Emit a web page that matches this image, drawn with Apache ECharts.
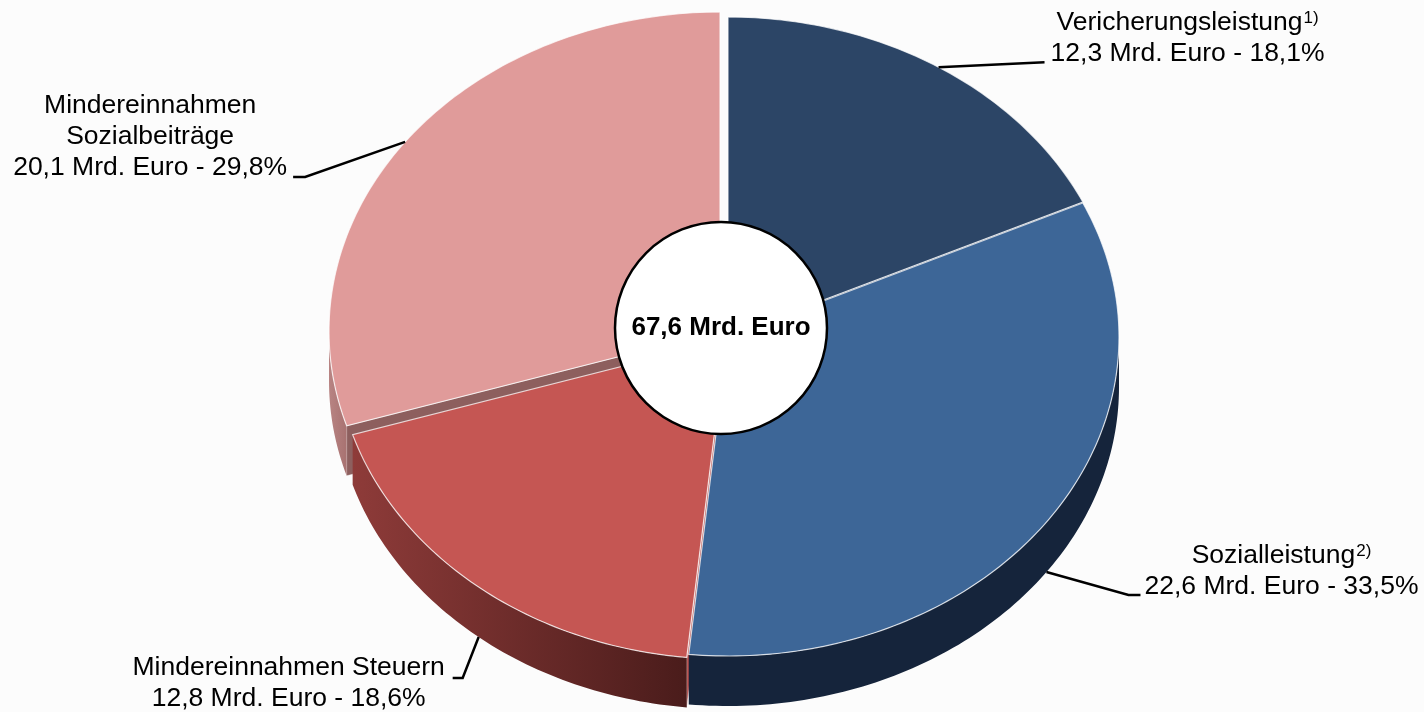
<!DOCTYPE html>
<html>
<head>
<meta charset="utf-8">
<script src="https://cdn.jsdelivr.net/npm/echarts@6/dist/echarts.min.js"></script>
<style>
  html, body { margin: 0; padding: 0; background: #fcfcfc; }
  #chart { width: 1424px; height: 712px; }
</style>
</head>
<body>
<div id="chart"></div>
<script>
const CATEGORIES = ["Vericherungsleistung", "Sozialleistung", "Mindereinnahmen Steuern", "Mindereinnahmen Sozialbeiträge"];
const NAME_LINES = [["Vericherungsleistung"], ["Sozialleistung"], ["Mindereinnahmen Steuern"], ["Mindereinnahmen", "Sozialbeiträge"]];
const FOOTNOTES = ["1)", "2)", "", ""];
const VALUES = [12.3, 22.6, 12.8, 20.1]; // Mrd. Euro
const SHARES = [18.1, 33.5, 18.6, 29.8]; // Prozent
const TOTAL = 67.6;

const FONT = "'Liberation Sans', Arial, sans-serif";
const L = { cx: 725, cy: 337, rx: 391, ry: 319, depth: 50, hole: 106 };
// kleine Verschiebung der Segmente (Explosion), px
const SHIFT = [[3, -1], [3, 0], [1, 3], [-5, -6]];
const TOP = ["#2c4566", "#3d6697", "#c55653", "#e09b9a"];
const FACE = ["#1f3350", "#1b2d48", "#b34b48", "#8d5f5e"];
const WALL = [
  "#1b2b42",
  "#15243b",
  new echarts.graphic.LinearGradient(0, 0, 1, 0, [{ offset: 0, color: "#8e3b39" }, { offset: 1, color: "#4a1c1b" }]),
  new echarts.graphic.LinearGradient(0, 0, 1, 0, [{ offset: 0, color: "#b88483" }, { offset: 1, color: "#a87271" }]),
];
// Beschriftung: Knick relativ zum Ankerpunkt, waagrechtes Endstück, Textmitte relativ zum Linienende
const LABEL_LAYOUT = [
  { elbow: [106, -5], tail: 0, text: [143, -24.5] },
  { elbow: [82, 23], tail: 12, text: [141, -24] },
  { elbow: [-16, 41], tail: -10, text: [-164, 5.5] },
  { elbow: [-100, 35], tail: -12, text: [-143, -40] },
];

const fmt = (v) => v.toFixed(1).replace(".", ",");
const rad = (d) => d * Math.PI / 180;

function angles(i) {
  const sum = SHARES.reduce((a, b) => a + b, 0);
  let start = 0;
  for (let k = 0; k < i; k++) start += SHARES[k];
  return [start / sum * 360, (start + SHARES[i]) / sum * 360];
}
function pt(i, deg, down) {
  const s = SHIFT[i];
  return [L.cx + s[0] + L.rx * Math.sin(rad(deg)), L.cy + s[1] - L.ry * Math.cos(rad(deg)) + (down ? L.depth : 0)];
}
function hub(i, down) {
  return [L.cx + SHIFT[i][0], L.cy + SHIFT[i][1] + (down ? L.depth : 0)];
}
function arc(i, a, b, down) {
  const pts = [];
  const n = Math.max(2, Math.ceil(Math.abs(b - a)));
  for (let k = 0; k <= n; k++) pts.push(pt(i, a + (b - a) * k / n, down));
  return pts;
}

function renderSides(params) {
  const i = params.dataIndex;
  const [a, b] = angles(i);
  const children = [];
  const face = (deg) => ({
    type: "polygon", z2: 0,
    shape: { points: [hub(i, false), pt(i, deg, false), pt(i, deg, true), hub(i, true)] },
    style: { fill: FACE[i], stroke: "rgba(255,255,255,0.5)", lineWidth: 0.8 },
  });
  if (Math.sin(rad(a)) < -0.01) children.push(face(a));
  if (Math.sin(rad(b)) > 0.01) children.push(face(b));
  const fa = Math.max(a, 90), fb = Math.min(b, 270);
  if (fb > fa) {
    children.push({
      type: "polygon", z2: 1,
      shape: { points: arc(i, fa, fb, false).concat(arc(i, fb, fa, true)) },
      style: { fill: WALL[i] },
    });
  }
  return { type: "group", children };
}

function renderTops(params) {
  const i = params.dataIndex;
  const [a, b] = angles(i);
  const mid = (a + b) / 2;
  const front = mid > 90 && mid < 270;
  const anchor = pt(i, mid, front);
  const lay = LABEL_LAYOUT[i];
  const elbow = [anchor[0] + lay.elbow[0], anchor[1] + lay.elbow[1]];
  const end = [elbow[0] + lay.tail, elbow[1]];
  const lines = NAME_LINES[i].slice();
  if (FOOTNOTES[i]) lines[lines.length - 1] += `{sup|${FOOTNOTES[i]}}`;
  lines.push(`${fmt(VALUES[i])} Mrd. Euro - ${fmt(SHARES[i])}%`);
  return {
    type: "group",
    children: [
      {
        type: "polygon",
        shape: { points: [hub(i, false)].concat(arc(i, a, b, false)) },
        style: { fill: TOP[i], stroke: "rgba(255,255,255,0.75)", lineWidth: 1.2 },
      },
      {
        type: "polyline",
        shape: { points: [anchor, elbow, end] },
        style: { stroke: "#000", lineWidth: 2.5, fill: null },
      },
      {
        type: "text",
        style: {
          text: lines.join("\n"),
          x: end[0] + lay.text[0],
          y: end[1] + lay.text[1],
          align: "center",
          verticalAlign: "middle",
          fontFamily: FONT,
          fontSize: 26.5,
          lineHeight: 31,
          fill: "#000",
          rich: { sup: { fontFamily: FONT, fontSize: 17, lineHeight: 31, verticalAlign: "top", padding: [3, 0, 0, 1] } },
        },
      },
    ],
  };
}

const chart = echarts.init(document.getElementById("chart"), null, { renderer: "canvas" });
chart.setOption({
  backgroundColor: "#fcfcfc",
  animation: false,
  series: [
    { type: "custom", coordinateSystem: "none", silent: true, z: 1, data: VALUES, renderItem: renderSides },
    { type: "custom", coordinateSystem: "none", silent: true, z: 2, data: VALUES, renderItem: renderTops },
    {
      type: "pie",
      z: 5,
      silent: true,
      center: [L.cx - 4, L.cy - 9],
      radius: [0, L.hole],
      data: [{ value: TOTAL, name: "Gesamt" }],
      itemStyle: { color: "#fff", borderColor: "#000", borderWidth: 2.5 },
      label: { show: true, position: "center", formatter: () => `${fmt(TOTAL)} Mrd. Euro`, fontFamily: FONT, fontSize: 26, fontWeight: "bold", color: "#000" },
      labelLine: { show: false },
      emphasis: { disabled: true },
    },
  ],
});
</script>
</body>
</html>
